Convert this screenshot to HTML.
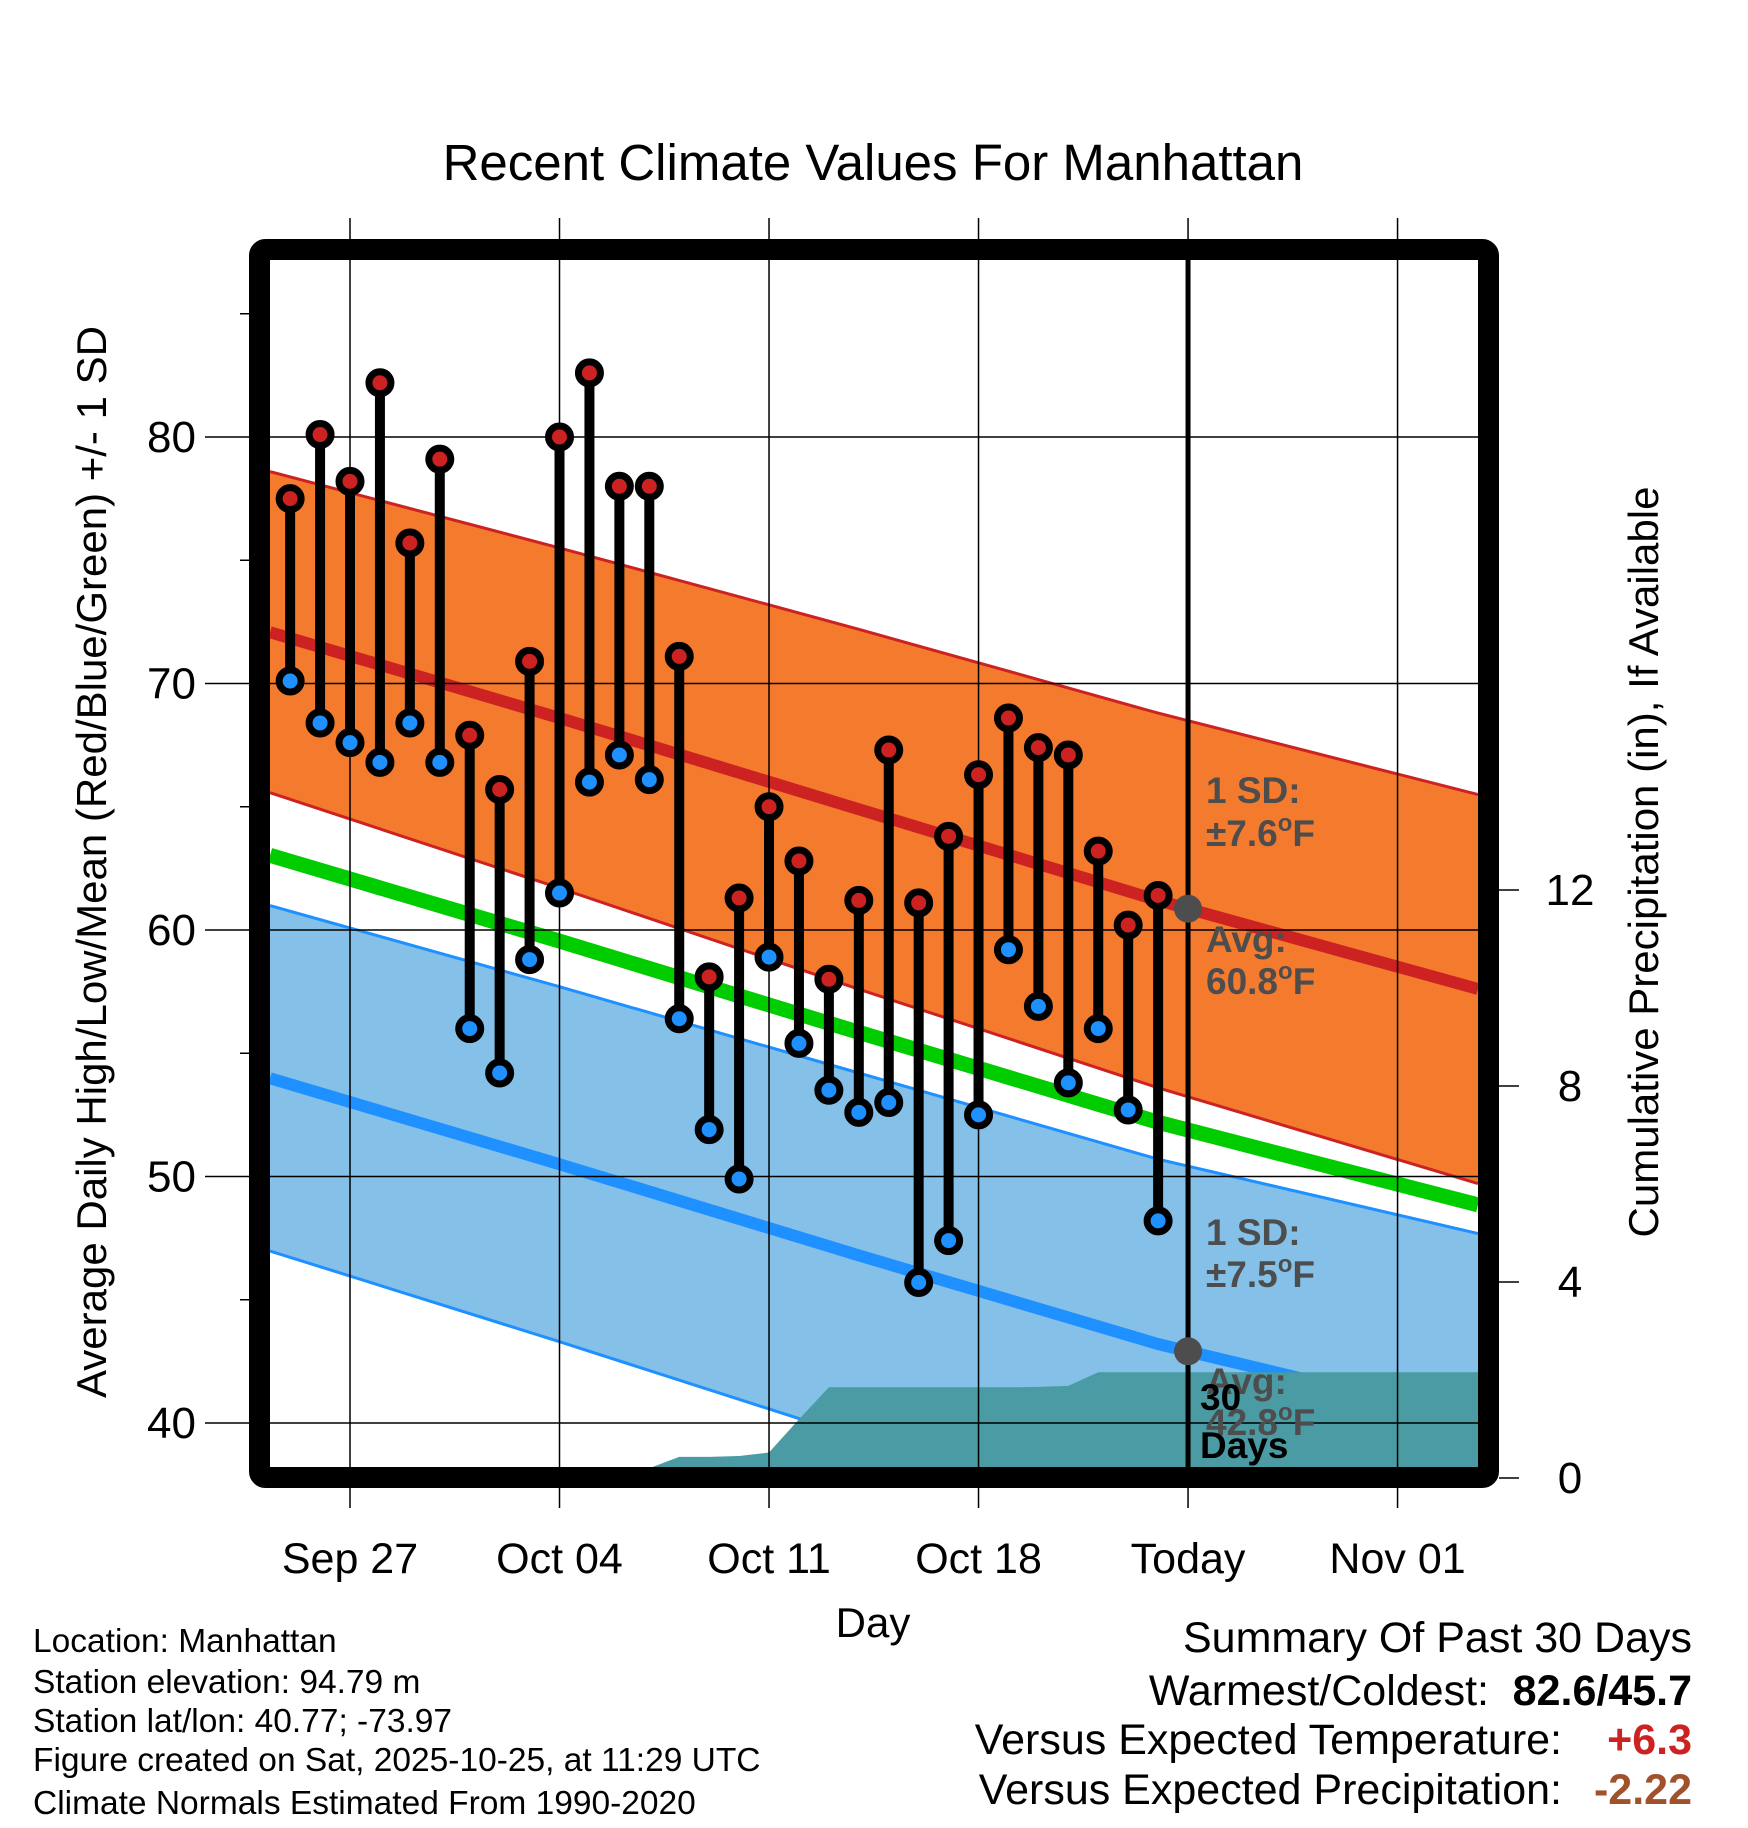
<!DOCTYPE html>
<html><head><meta charset="utf-8">
<style>
html,body{margin:0;padding:0;background:#fff;}
svg{display:block;font-family:"Liberation Sans",Arial,sans-serif;}
</style></head>
<body>
<svg id="chart" width="1748" height="1828" viewBox="0 0 1748 1828" xmlns="http://www.w3.org/2000/svg">
<rect width="1748" height="1828" fill="#fff"/>
<text x="873" y="180" font-size="51" text-anchor="middle">Recent Climate Values For Manhattan</text>
<g id="plot"></g>
</svg>
<script>
// ---- data (days relative to Sep 27 = 0) ----
const obsDays = [-2,-1,0,1,2,3,4,5,6,7,8,9,10,11,12,13,14,15,16,17,18,19,20,21,22,23,24,25,26,27];
const highs = [77.5,80.1,78.2,82.2,75.7,79.1,67.9,65.7,70.9,80.0,82.6,78.0,78.0,71.1,58.1,61.3,65.0,62.8,58.0,61.2,67.3,61.1,63.8,66.3,68.6,67.4,67.1,63.2,60.2,61.4];
const lows = [70.1,68.4,67.6,66.8,68.4,66.8,56.0,54.2,58.8,61.5,66.0,67.1,66.1,56.4,51.9,49.9,58.9,55.4,53.5,52.6,53.0,45.7,47.4,52.5,59.2,56.9,53.8,56.0,52.7,48.2];
const normDays = [-3,7,17,27,38];
const normHigh = [72.2,68.6,64.9,61.2,57.5];
const normLow = [54.1,50.5,46.8,43.2,40.0];
const sdHigh = [6.5,6.9,7.3,7.6,7.9];
const sdLow = [7.0,7.2,7.4,7.5,7.6];
const precipDays = [-2,-1,0,1,2,3,4,5,6,7,8,9,10,11,12,13,14,15,16,17,18,19,20,21,22,23,24,25,26,27,28,38];
const precipCum = [0,0,0,0.2,0.2,0.2,0.2,0.2,0.2,0.2,0.2,0.2,0.2,0.43,0.43,0.45,0.52,1.2,1.85,1.85,1.85,1.85,1.85,1.85,1.85,1.86,1.88,2.16,2.16,2.16,2.16,2.16];
const xTickDays = [0,7,14,21,28,35];
const xTickLabels = ["Sep 27","Oct 04","Oct 11","Oct 18","Today","Nov 01"];
const yTicks = [40,50,60,70,80];
const yMinor = [45,55,65,75,85];
const pTicks = [0,4,8,12];
const todayDay = [28];

// ---- scales ----
const L=270,R=1478,T=260,B=1468;
const X = d => 350 + d*29.93;
const Y = v => 437 + (80 - v)*24.65;
const P = v => 1478 - v*49;
const NS="http://www.w3.org/2000/svg";
const g=document.getElementById('plot');
function mk(tag,attrs,parent){const e=document.createElementNS(NS,tag);for(const k in attrs)e.setAttribute(k,attrs[k]);(parent||g).appendChild(e);return e;}
function interp(arrX,arrY,d){for(let i=0;i<arrX.length-1;i++){if(d<=arrX[i+1]){const t=(d-arrX[i])/(arrX[i+1]-arrX[i]);return arrY[i]+t*(arrY[i+1]-arrY[i]);}}return arrY[arrY.length-1];}
const dL=(L-350)/29.93, dR=(R-350)/29.93;
const samp=[dL];normDays.forEach(d=>{if(d>dL&&d<dR)samp.push(d);});samp.push(dR);
function linePts(fn){return samp.map(d=>X(d).toFixed(1)+','+Y(fn(d)).toFixed(1));}

const clip=mk('clipPath',{id:'pc'});mk('rect',{x:L,y:T,width:R-L,height:B-T},clip);
const inner=mk('g',{'clip-path':'url(#pc)'});

const nH=d=>interp(normDays,normHigh,d), nL=d=>interp(normDays,normLow,d);
const hU=d=>nH(d)+interp(normDays,sdHigh,d), hL=d=>nH(d)-interp(normDays,sdHigh,d);
const lU=d=>nL(d)+interp(normDays,sdLow,d), lL=d=>nL(d)-interp(normDays,sdLow,d);
let e;
e=mk('polygon',{points:linePts(hU).concat(linePts(hL).reverse()).join(' '),fill:'#f47a2e'},inner);


e=mk('polygon',{points:linePts(lU).concat(linePts(lL).reverse()).join(' '),fill:'#84c0e7'},inner);


[[hU,'#cc2222',3],[hL,'#cc2222',3],[lU,'#1e90ff',3],[lL,'#1e90ff',3]].forEach(a=>{
 e=mk('polyline',{points:linePts(a[0]).join(' '),fill:'none',stroke:a[1],'stroke-width':a[2]},inner);
 
 
});
e=mk('polyline',{points:linePts(nH).join(' '),fill:'none',stroke:'#cc2222','stroke-width':12},inner);


e=mk('polyline',{points:linePts(d=>(nH(d)+nL(d))/2).join(' '),fill:'none',stroke:'#00cc00','stroke-width':15},inner);


e=mk('polyline',{points:linePts(nL).join(' '),fill:'none',stroke:'#1e90ff','stroke-width':12},inner);



// gridlines
yTicks.forEach(v=>{
 e=mk('line',{x1:205,x2:R,y1:Y(v),y2:Y(v),stroke:'#000','stroke-width':1.5});
 
 
});
yMinor.forEach(v=>{
 e=mk('line',{x1:240,x2:L,y1:Y(v),y2:Y(v),stroke:'#000','stroke-width':1.5});
 
 
});
xTickDays.forEach(d=>{
 e=mk('line',{x1:X(d),x2:X(d),y1:218,y2:1508,stroke:'#000','stroke-width':1.5});
 
 
});

// precipitation
let pp=[X(precipDays[0])+','+B];
precipDays.forEach((d,i)=>pp.push(X(d).toFixed(1)+','+P(precipCum[i]).toFixed(1)));
pp.push(X(precipDays[precipDays.length-1])+','+B);
e=mk('polygon',{points:pp.join(' '),fill:'#4a9ba3'},inner);



// stems and markers
obsDays.forEach((d,i)=>{
 const s=mk('line',{x1:X(d),x2:X(d),y1:Y(highs[i]),y2:Y(lows[i]),stroke:'#000','stroke-width':10});
 
 
});
obsDays.forEach((d,i)=>{
 const h=mk('circle',{cx:X(d),cy:Y(highs[i]),r:11,fill:'#cc2222',stroke:'#000','stroke-width':7});
 
 
 const l=mk('circle',{cx:X(d),cy:Y(lows[i]),r:11,fill:'#1e90ff',stroke:'#000','stroke-width':7});
 
 
});

// today line and avg dots
e=mk('line',{x1:X(todayDay[0]),x2:X(todayDay[0]),y1:T,y2:B,stroke:'#000','stroke-width':5});


e=mk('circle',{cx:X(todayDay[0]),cy:Y(nH(todayDay[0])),r:14,fill:'#4d4d4d'});


e=mk('circle',{cx:X(todayDay[0]),cy:Y(nL(todayDay[0])),r:14,fill:'#4d4d4d'});



// annotations
function txt(x,y,s,attrs,name,par){const t=mk('text',Object.assign({x:x,y:y},attrs),par);t.innerHTML=s;return t;}
const ann={'font-size':37,'font-weight':'bold',fill:'#4d4d4d'};
const deg='<tspan font-size="24" dy="-15">o</tspan><tspan dy="15">F</tspan>';
txt(1206,803,'1 SD:',ann,'high-sd-label');
txt(1206,846,'±7.6'+deg,ann,'high-sd-value');
txt(1206,952,'Avg:',ann,'high-avg-label');
txt(1206,994,'60.8'+deg,ann,'high-avg-value');
txt(1206,1245,'1 SD:',ann,'low-sd-label');
txt(1206,1287,'±7.5'+deg,ann,'low-sd-value');
txt(1206,1394,'Avg:',ann,'low-avg-label');
txt(1206,1435,'42.8'+deg,ann,'low-avg-value');
txt(1200,1410,'30',{'font-size':37,'font-weight':'bold',fill:'#000'},'period-number');
txt(1200,1458,'Days',{'font-size':37,'font-weight':'bold',fill:'#000'},'period-days');

// frame
e=mk('rect',{x:259.5,y:249.5,width:1229,height:1228,fill:'none',stroke:'#000','stroke-width':21,rx:6});



// axes labels
yTicks.forEach(v=>{txt(196,Y(v)+15,String(v),{'font-size':44,'text-anchor':'end'},'y-tick-label');});
pTicks.forEach(v=>{
 const t=mk('line',{x1:1499,x2:1519,y1:P(v),y2:P(v),stroke:'#000','stroke-width':1.5});
 
 
 txt(1570,P(v)+15,String(v),{'font-size':44,'text-anchor':'middle'},'precip-tick-label');
});
xTickDays.forEach((d,i)=>{txt(X(d),1573,xTickLabels[i],{'font-size':43,'text-anchor':'middle'},'x-tick-label');});
txt(873,1637,'Day',{'font-size':42,'text-anchor':'middle'},'x-axis-title');
txt(0,0,'Average Daily High/Low/Mean (Red/Blue/Green) +/- 1 SD',{'font-size':42,'text-anchor':'middle',transform:'translate(106,862) rotate(-90)'},'y-axis-title');
txt(0,0,'Cumulative Precipitation (in), If Available',{'font-size':42,'text-anchor':'middle',transform:'translate(1658,862) rotate(-90)'},'precip-axis-title');

// footer
const foot=['Location: Manhattan','Station elevation: 94.79 m','Station lat/lon: 40.77; -73.97','Figure created on Sat, 2025-10-25, at 11:29 UTC','Climate Normals Estimated From 1990-2020'];
const fy=[1652,1693,1732,1771,1814];
foot.forEach((s,i)=>txt(33,fy[i],s,{'font-size':33.5},'station-info-line'));
txt(1692,1652,'Summary Of Past 30 Days',{'font-size':43,'text-anchor':'end'},'summary-title');
txt(1489,1705,'Warmest/Coldest:',{'font-size':43,'text-anchor':'end'},'warmest-coldest-label');
txt(1692,1705,'82.6/45.7',{'font-size':43,'text-anchor':'end','font-weight':'bold'},'warmest-coldest-value');
txt(1562,1754,'Versus Expected Temperature:',{'font-size':43,'text-anchor':'end'},'temp-anomaly-label');
txt(1692,1754,'+6.3',{'font-size':43,'text-anchor':'end','font-weight':'bold',fill:'#cc2222'},'temp-anomaly-value');
txt(1562,1804,'Versus Expected Precipitation:',{'font-size':43,'text-anchor':'end'},'precip-anomaly-label');
txt(1692,1804,'-2.22',{'font-size':43,'text-anchor':'end','font-weight':'bold',fill:'#a0522d'},'precip-anomaly-value');
</script>
</body></html>
